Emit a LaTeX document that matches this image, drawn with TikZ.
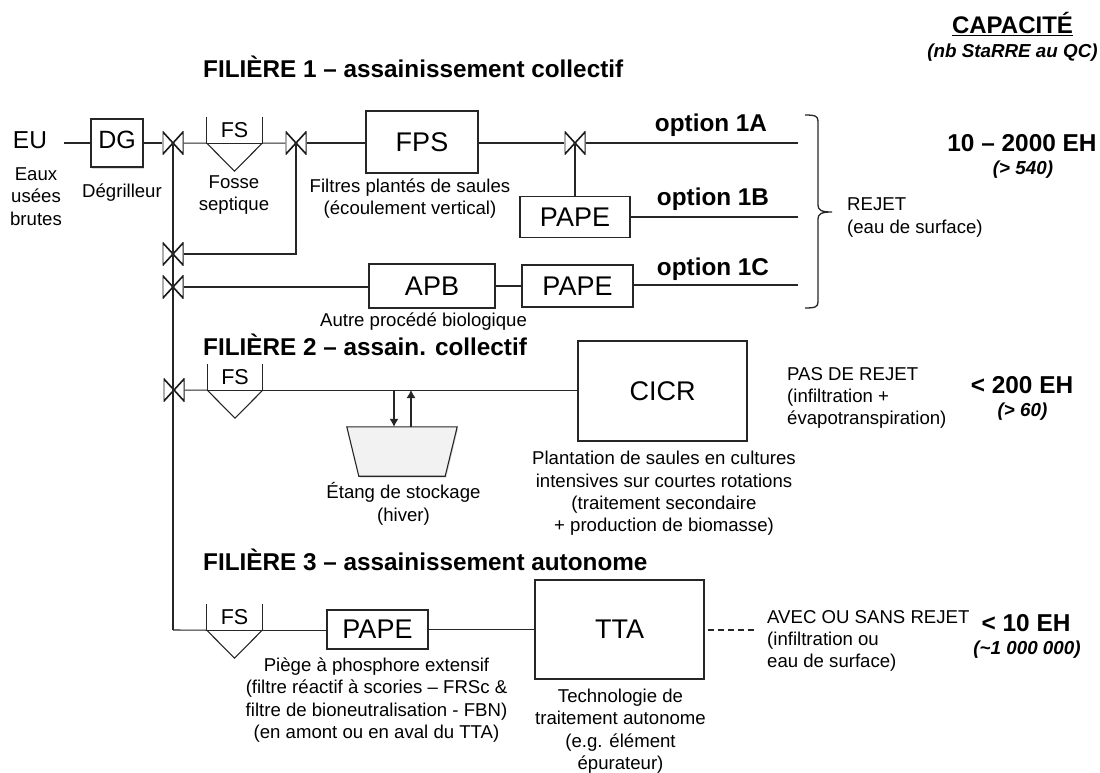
\documentclass[tikz,border=0pt]{standalone}
\usepackage{fontspec}
\setmainfont{Liberation Sans}
\usetikzlibrary{arrows.meta, positioning, shadows}

\newcommand{\fstank}[3]{%
  \node[tank] (#1) at (#2,#3) {FS};
  \draw[pipe] (#1.north west) -- (#1.south west) -- (#1.south east) -- (#1.north east);
  \draw[pipe] (#1.south west) -- ([yshift=-28pt]#1.south) -- (#1.south east);
}

\begin{document}
\begin{tikzpicture}[
x=1pt, y=-1pt,
node distance=2pt,
box/.style={rectangle, draw=black!85, line width=1.1pt, inner sep=0pt, font=\fontsize{27}{32}\selectfont},
tank/.style={rectangle, inner sep=0pt, minimum width=55pt, minimum height=26pt, font=\fontsize{21.5}{25}\selectfont},
valve/.style={rectangle, inner sep=0pt, minimum width=21pt, minimum height=23pt,
  path picture={\draw[line width=1.6pt, black!90] (path picture bounding box.north west) -- (path picture bounding box.south east)
    -- (path picture bounding box.north east) -- (path picture bounding box.south west) -- cycle;}},
pipe/.style={line width=1.1pt, black!85},
arrow/.style={-{Latex[length=8pt,width=9pt]}, line width=1.1pt, black!85},
captext/.style={align=center, inner sep=0pt, font=\fontsize{18.6}{22.4}\selectfont},
sidetext/.style={align=left, anchor=west, inner sep=0pt, font=\fontsize{18.6}{22.4}\selectfont},
filtitle/.style={anchor=west, inner sep=0pt, font=\fontsize{24.3}{28}\selectfont\bfseries},
optlabel/.style={inner sep=0pt, font=\fontsize{24.3}{28}\selectfont\bfseries},
ehlabel/.style={inner sep=0pt, font=\fontsize{24.4}{28}\selectfont\bfseries},
nblabel/.style={inner sep=0pt, font=\fontsize{18.8}{22}\selectfont\bfseries\itshape}
]
\useasboundingbox (0,0) rectangle (1100,773);

% filiere 1
\node[filtitle] (fil1) at (203,67) {FILIÈRE 1 – assainissement collectif};
\node[inner sep=0pt, font=\fontsize{24.5}{28}\selectfont] (eu) at (30,140) {EU};
\coordinate (euout) at (64,143);
\node[box, minimum width=52pt, minimum height=48pt, fill=white, font=\fontsize{25}{30}\selectfont, drop shadow={shadow xshift=1pt, shadow yshift=-1.5pt, opacity=.3}] (dg) at (117,143) {\raisebox{7pt}{DG}};
\node[valve] (v1) at (173,143) {};
\fstank{fs1}{234.5}{130}
\node[valve] (v2) at (296,143) {};
\node[box, minimum width=112pt, minimum height=62pt] (fps) at (422,142) {FPS};
\node[valve] (v5) at (575,143) {};
\coordinate (out1a) at (798,143);
\node[box, minimum width=110pt, minimum height=41pt] (pape1b) at (575,217) {PAPE};
\coordinate (out1b) at (798,217);
\node[valve] (v3) at (173,254) {};
\node[valve] (v4) at (173,287) {};
\node[box, minimum width=126pt, minimum height=44pt] (apb) at (432,286) {APB};
\node[box, minimum width=111pt, minimum height=42pt] (pape1c) at (577.5,286) {PAPE};
\coordinate (out1c) at (798,285);

\node[captext] (cap-eu) at (36,196.5) {Eaux\\usées\\brutes};
\node[captext] (cap-dg) at (122,193) {Dégrilleur};
\node[captext] (cap-fs) at (234,195) {Fosse\\septique};
\node[captext] (cap-fps) at (410,198.5) {Filtres plantés de saules\\(écoulement vertical)};
\node[captext] (cap-apb) at (423.5,322) {Autre procédé biologique};
\node[optlabel] (op1a) at (711,125) {option 1A};
\node[optlabel] (op1b) at (713,199) {option 1B};
\node[optlabel] (op1c) at (713,269) {option 1C};
\node[sidetext] (rejet) at (847,217.5) {REJET\\(eau de surface)};

\draw[pipe] (euout) -- (dg);
\draw[pipe] (dg) -- (v1);
\draw[pipe] (v1) -- (fs1.south west);
\draw[pipe] (fs1.south east) -- (v2);
\draw[pipe] (v2) -- (fps.west |- v2);
\draw[pipe] (fps.east |- v5) -- (v5);
\draw[pipe] (v5) -- (out1a);
\draw[pipe] (v5.center) -- (pape1b);
\draw[pipe] (pape1b.east |- out1b) -- (out1b);
\draw[pipe] (v3) -| (v2.center);
\draw[pipe] (v4) -- (apb.west |- v4);
\draw[pipe] (apb) -- (pape1c);
\draw[pipe] (pape1c.east |- out1c) -- (out1c);
\draw[pipe, line width=1.3pt] (805,115) .. controls (815,115) and (818,116) .. (818,121) -- (818,205)
  .. controls (818,210) and (821,212) .. (832,212) .. controls (821,212) and (818,214) .. (818,219)
  -- (818,302) .. controls (818,307) and (815,308) .. (805,308);

% filiere 2
\node[filtitle] (fil2) at (203,345) {FILIÈRE 2 – assain. collectif};
\node[valve] (v6) at (174,390) {};
\fstank{fs2}{235}{377}
\node[box, minimum width=169pt, minimum height=100pt] (cicr) at (662.5,391) {CICR};
\node[inner sep=0pt, minimum width=110pt, minimum height=49pt] (etang) at (402,451.5) {};
\draw[draw=black!85, line width=1.1pt, fill=black!5, drop shadow={shadow xshift=1pt, shadow yshift=-1.5pt, opacity=.3}]
  (etang.north west) -- (etang.north east) -- ([xshift=-12pt]etang.south east) -- ([xshift=12pt]etang.south west) -- cycle;
\coordinate (tapdown) at (394,390);
\coordinate (tapup) at (411,390);

\node[captext] (cap-etang) at (403.5,504) {Étang de stockage\\(hiver)};
\node[captext] (cap-cicr) at (664,493.5) {Plantation de saules en cultures\\intensives sur courtes rotations\\(traitement secondaire\\+ production de biomasse)};
\node[sidetext] (pasrejet) at (787,398) {PAS DE REJET\\(infiltration +\\évapotranspiration)};

\draw[pipe] (v6) -- (fs2.south west);
\draw[pipe] (fs2.south east) -- (cicr.west |- fs2.south east);
\draw[arrow] (tapdown) -- (tapdown |- etang.north);
\draw[arrow] (tapup |- etang.north) -- (tapup);

% filiere 3
\node[filtitle] (fil3) at (203,560) {FILIÈRE 3 – assainissement autonome};
\coordinate (corner) at (173,630);
\fstank{fs3}{234.5}{617}
\node[box, minimum width=101pt, minimum height=39pt] (pape3) at (377.5,629.5) {PAPE};
\node[box, minimum width=169pt, minimum height=99pt] (tta) at (619.5,629.5) {TTA};
\coordinate (ttagap) at (708,630);
\coordinate (ttaout) at (757,630);

\node[captext] (cap-pape) at (376.5,700) {Piège à phosphore extensif\\(filtre réactif à scories – FRSc \&\\filtre de bioneutralisation - FBN)\\(en amont ou en aval du TTA)};
\node[captext] (cap-tta) at (620.5,731) {Technologie de\\traitement autonome\\(e.g. élément\\épurateur)};
\node[sidetext] (avec) at (767,641) {AVEC OU SANS REJET\\(infiltration ou\\eau de surface)};

\draw[pipe] (v1.center) -- (corner);
\draw[pipe] (corner) -- (fs3.south west);
\draw[pipe] (fs3.south east) -- (pape3.west |- fs3.south east);
\draw[pipe] (pape3) -- (tta);
\draw[pipe, dash pattern=on 6pt off 4pt] (ttagap) -- (ttaout);

% capacite
\node[inner sep=0pt, anchor=base, font=\fontsize{24}{28}\selectfont\bfseries] (cap) at (1012.5,34) {\underline{CAPACITÉ}};
\node[nblabel] (nb) at (1012.5,53) {(nb StaRRE au QC)};
\node[ehlabel] (eh1) at (1022,143) {10 – 2000 EH};
\node[nblabel] (nb1) at (1023,170) {(> 540)};
\node[ehlabel] (eh2) at (1022,385) {< 200 EH};
\node[nblabel] (nb2) at (1022.5,412) {(> 60)};
\node[ehlabel] (eh3) at (1026,623) {< 10 EH};
\node[nblabel] (nb3) at (1027,650) {(\textasciitilde 1 000 000)};

\end{tikzpicture}
\end{document}
